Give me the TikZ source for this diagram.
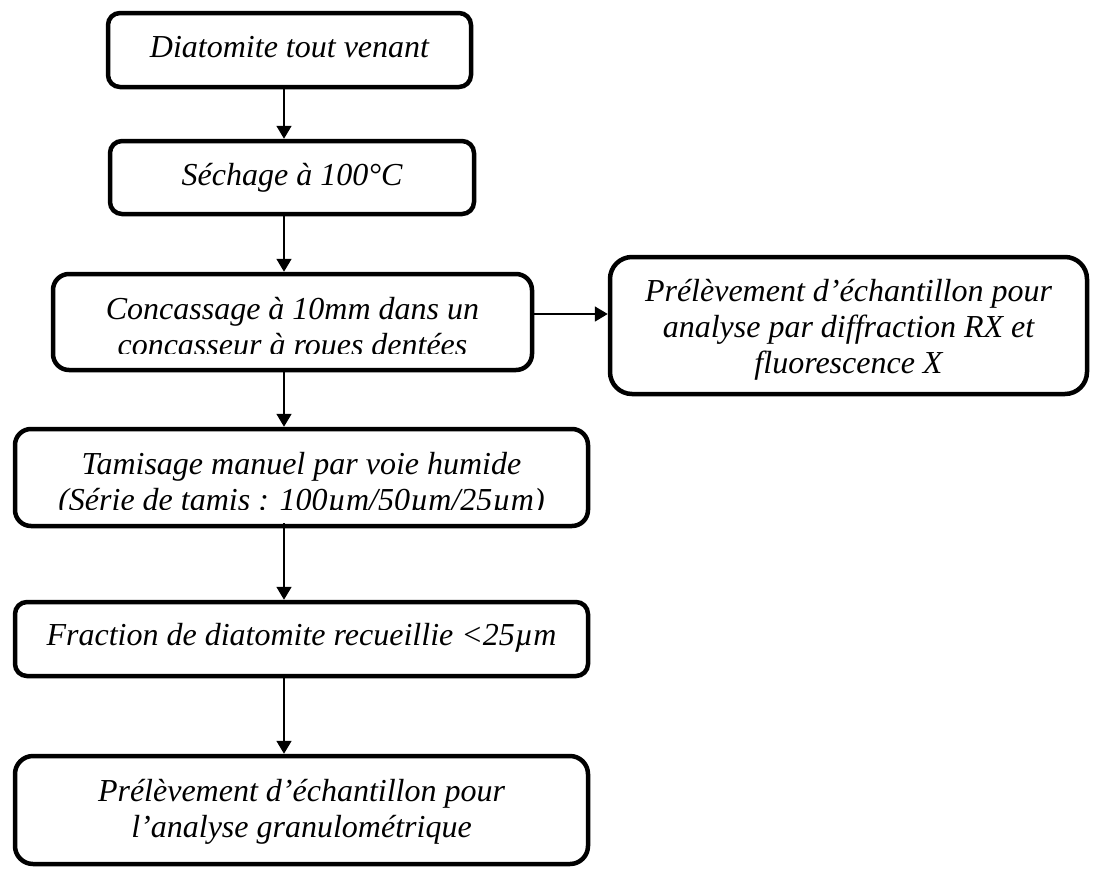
\documentclass[tikz,border=0pt]{standalone}
\usepackage{fontspec}
\setmainfont{Liberation Serif}
\usetikzlibrary{arrows.meta}
\tikzset{
  box/.style={draw=black, line width=4.5pt, rounded corners=#1, inner sep=0pt},
  box/.default=12pt,
  txt/.style={anchor=base, inner sep=0pt, font=\fontsize{32}{38}\selectfont\itshape},
  conn/.style={draw=black, line width=1.8pt, -{Triangle[length=13pt,width=15pt]}}
}
\begin{document}
\begin{tikzpicture}[x=1pt,y=-1pt]
\useasboundingbox (0,0) rectangle (1098,868);
\coordinate (ax) at (284,0);
\coordinate (ay) at (0,314);

% boxes
\node[box=12pt, minimum width=363, minimum height=74] (b1) at (289.5,50) {};
\node[box=12pt, minimum width=364, minimum height=73] (b2) at (292,177.5) {};
\node[box=16pt, minimum width=479, minimum height=96] (b3) at (292.5,322) {};
\node[box=22pt, minimum width=477, minimum height=137] (r) at (848.5,325.5) {};
\node[box=16pt, minimum width=573, minimum height=97] (b4) at (301.5,477.5) {};
\node[box=12pt, minimum width=573, minimum height=74] (b5) at (301.5,639) {};
\node[box=18pt, minimum width=573, minimum height=108] (b6) at (301.5,810) {};

% texts
\node[txt] (t1) at (289.5,57) {Diatomite tout venant};
\node[txt] (t2) at (292,185) {Séchage à 100°C};
\node[txt] (t3a) at (292.5,319) {Concassage à 10mm dans un};
\begin{scope}
  \clip (56,330) rectangle (529,353);
  \node[txt] (t3b) at (292.5,355) {concasseur à roues dentées};
\end{scope}
\node[txt] (tr1) at (848.5,301) {Prélèvement d’échantillon pour};
\node[txt] (tr2) at (848.5,337) {analyse par diffraction RX et};
\node[txt] (tr3) at (848.5,373) {fluorescence X};
\node[txt] (t4a) at (301.5,474) {Tamisage manuel par voie humide};
\begin{scope}
  \clip (18,485) rectangle (585,509);
  \node[txt] (t4b) at (301.5,510) {(Série de tamis : 100µm/50µm/25µm)};
\end{scope}
\node[txt] (t5) at (301.5,645) {Fraction de diatomite recueillie <25µm};
\node[txt] (t6a) at (301.5,801) {Prélèvement d’échantillon pour};
\node[txt] (t6b) at (301.5,837) {l’analyse granulométrique};

% connectors
\draw[conn] (b1.south -| ax) -- (b2.north -| ax);
\draw[conn] (b2.south -| ax) -- (b3.north -| ax);
\draw[conn] (b3.south -| ax) -- (b4.north -| ax);
\draw[conn] ([yshift=5pt]b4.south -| ax) -- (b5.north -| ax);
\draw[conn] (b5.south -| ax) -- (b6.north -| ax);
\draw[conn] (b3.east |- ay) -- (r.west |- ay);
\end{tikzpicture}
\end{document}
